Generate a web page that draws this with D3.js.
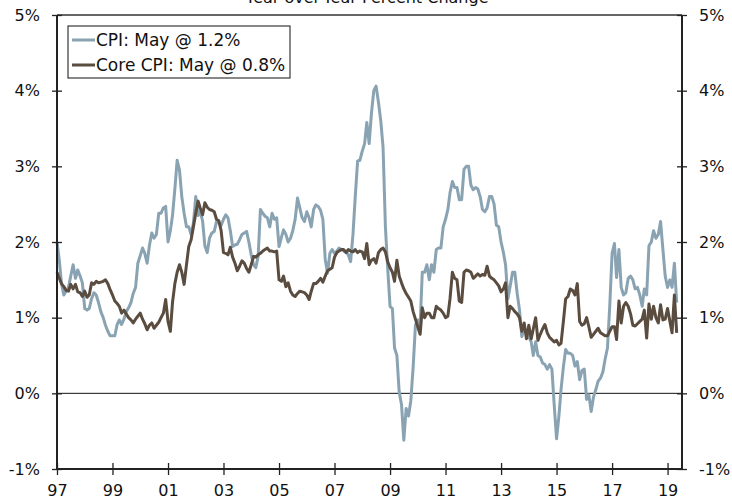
<!DOCTYPE html>
<html>
<head>
<meta charset="utf-8">
<script src="https://cdn.jsdelivr.net/npm/d3@7"></script>
<style>
  body { margin: 0; background: #fff; }
  svg { display: block; font-family: 'DejaVu Sans', Verdana, sans-serif; }
</style>
</head>
<body>
<div id="chart"></div>
<script>
// monthly year-over-year % change, Jan 1997 .. May 2019
const cpi = [
  2.0, 1.75, 1.45, 1.3, 1.35, 1.4, 1.55, 1.7, 1.52, 1.63, 1.55, 1.46,
  1.12, 1.1, 1.12, 1.25, 1.33, 1.3, 1.2, 1.08, 1.0, 0.9, 0.82, 0.76,
  0.76, 0.76, 0.9, 0.97, 0.91, 0.98, 1.08, 1.13, 1.2, 1.32, 1.4, 1.72,
  1.82, 1.92, 1.85, 1.72, 1.95, 2.12, 2.05, 2.1, 2.38, 2.38, 2.45, 2.47,
  2.0, 2.15, 2.35, 2.7, 3.08, 2.95, 2.6, 2.38, 2.2, 2.2, 2.1, 2.25,
  2.6, 2.35, 2.4, 2.28, 1.95, 1.86, 2.05, 2.12, 2.14, 2.27, 2.25, 2.22,
  2.3, 2.36, 2.32, 2.15, 1.94, 1.96, 1.97, 2.03, 2.1, 2.12, 2.14, 2.0,
  1.83, 1.7, 1.66, 1.81, 2.43, 2.38, 2.34, 2.32, 2.2, 2.38, 2.3, 2.32,
  1.94, 2.06, 2.16, 2.1, 2.0, 2.05, 2.15, 2.3, 2.58, 2.45, 2.32, 2.27,
  2.4, 2.32, 2.2, 2.43, 2.49, 2.47, 2.42, 2.3, 1.77, 1.59, 1.85, 1.9,
  1.85, 1.88, 1.92, 1.9, 1.88, 1.88, 1.83, 1.74, 2.1, 2.6, 3.07, 3.08,
  3.2, 3.3, 3.58, 3.3, 3.7, 4.0, 4.06, 3.85, 3.6, 3.25, 2.2, 1.65,
  1.15, 1.12, 0.6, 0.5, 0.02, -0.15, -0.62, -0.2, -0.3, -0.1, 0.35, 0.9,
  0.97, 0.9, 1.6, 1.6, 1.7, 1.5, 1.7, 1.6, 1.9, 1.92, 1.92, 2.2,
  2.3, 2.43, 2.65, 2.8, 2.72, 2.72, 2.56, 2.56, 2.96, 3.0, 3.0, 2.75,
  2.69, 2.72, 2.7, 2.6, 2.43, 2.4, 2.45, 2.6, 2.6, 2.5, 2.22, 2.2,
  2.0, 1.86, 1.7, 1.25, 1.42, 1.6, 1.6, 1.32, 1.1, 0.75, 0.85, 0.8,
  0.75, 0.68, 0.5, 0.68, 0.5, 0.48, 0.4, 0.38, 0.32, 0.38, 0.32, -0.15,
  -0.6, -0.3, 0.05, 0.35, 0.58, 0.53, 0.53, 0.5, 0.36, 0.42, 0.18, 0.3,
  0.32, -0.08, -0.02, -0.24, -0.05, 0.05, 0.16, 0.2, 0.28, 0.45, 0.6, 1.15,
  1.85, 1.98, 1.53, 1.9, 1.4, 1.3, 1.33, 1.52, 1.55, 1.5, 1.38, 1.4,
  1.3, 1.15, 1.38, 1.3, 1.95, 2.0, 2.15, 2.05, 2.1, 2.27, 1.9, 1.55,
  1.4, 1.5, 1.4, 1.72, 1.2
]

const core = [
  1.6, 1.52, 1.45, 1.41, 1.36, 1.35, 1.44, 1.38, 1.44, 1.34, 1.33, 1.28,
  1.35, 1.27, 1.3, 1.46, 1.44, 1.48, 1.46, 1.47, 1.48, 1.5, 1.45, 1.37,
  1.3, 1.22, 1.19, 1.15, 1.06, 1.1, 1.05, 1.0, 0.97, 0.93, 0.98, 1.02,
  1.06, 0.98, 0.92, 0.84, 0.9, 0.93, 0.86, 0.9, 0.94, 1.0, 1.06, 1.24,
  0.95, 0.82, 1.2, 1.45, 1.6, 1.7, 1.6, 1.44, 1.7, 1.94, 2.03, 2.2,
  2.38, 2.54, 2.45, 2.36, 2.52, 2.46, 2.43, 2.42, 2.4, 2.3, 2.28, 2.15,
  1.86, 1.85, 1.83, 1.93, 1.8, 1.72, 1.62, 1.68, 1.75, 1.72, 1.65, 1.6,
  1.7, 1.81, 1.8, 1.83, 1.85, 1.88, 1.9, 1.92, 1.88, 1.88, 1.87, 1.88,
  1.5, 1.48, 1.55, 1.41, 1.46, 1.35, 1.3, 1.28, 1.32, 1.35, 1.34, 1.33,
  1.3, 1.24, 1.35, 1.45, 1.45, 1.48, 1.52, 1.47, 1.55, 1.62, 1.64, 1.66,
  1.8, 1.86, 1.88, 1.9, 1.9, 1.86, 1.9, 1.88, 1.87, 1.9, 1.86, 1.88,
  1.87, 1.78, 1.98, 1.7, 1.76, 1.78, 1.72, 1.86, 1.9, 1.92, 1.87, 1.74,
  1.66, 1.6, 1.48, 1.76, 1.55, 1.46, 1.38, 1.32, 1.27, 1.22, 1.08, 0.98,
  0.88, 0.78, 1.13, 1.0, 1.06, 1.06, 1.0, 1.0, 1.15, 1.12, 1.1, 1.06,
  1.0, 1.02, 1.25, 1.6, 1.52, 1.5, 1.22, 1.2, 1.6, 1.63, 1.62, 1.6,
  1.52, 1.55, 1.58, 1.55, 1.57, 1.56, 1.68, 1.55, 1.52, 1.5, 1.46, 1.42,
  1.34, 1.38, 1.46, 1.0, 1.15, 1.12, 1.08, 1.05, 1.0, 0.82, 0.93, 0.72,
  0.9, 0.72, 0.85, 1.0, 0.7, 0.78, 0.85, 0.91, 0.8, 0.74, 0.71, 0.68,
  0.7, 0.64, 0.66, 0.95, 1.25, 1.28, 1.38, 1.36, 1.3, 1.45, 0.95, 0.9,
  0.92, 1.0, 0.88, 0.74, 0.78, 0.82, 0.86, 0.8, 0.78, 0.76, 0.76, 0.82,
  0.88, 0.88, 0.71, 1.22, 0.93, 1.15, 1.2, 1.15, 1.05, 0.9, 0.89, 0.92,
  0.95, 0.98, 1.1, 0.73, 1.18, 0.98, 1.15, 1.0, 0.93, 1.17, 0.97, 0.98,
  1.12, 0.95, 0.8, 1.3, 0.8
]

const tickYears = [1997, 1999, 2001, 2003, 2005, 2007, 2009, 2011, 2013, 2015, 2017, 2019]
const yTicks = [-1, 0, 1, 2, 3, 4, 5]
const seriesNames = ['CPI: May @ 1.2%', 'Core CPI: May @ 0.8%']
const colors = ['#89a3b3', '#5b4c40']
const title = 'Year-over-Year Percent Change'

const W = 732
const H = 502
const margin = { top: 15, left: 57, right: 50, bottom: 33 }
const width = W - margin.left - margin.right
const height = H - margin.top - margin.bottom

const svg = d3
  .select('#chart')
  .append('svg')
  .attr('width', W)
  .attr('height', H)

const g = svg
  .append('g')
  .attr('transform', 'translate(' + margin.left + ',' + margin.top + ')')

const start = new Date(1997, 0, 1)
const months = cpi.map((d, i) => d3.timeMonth.offset(start, i))

const x = d3
  .scaleTime()
  .domain([start, new Date(2019, 6, 10)])
  .range([0, width])

const y = d3
  .scaleLinear()
  .domain([-1, 5])
  .range([height, 0])

// title sits half off the top edge, as in the original
svg
  .append('text')
  .attr('x', 367)
  .attr('y', 3)
  .attr('text-anchor', 'middle')
  .attr('font-size', 16)
  .attr('fill', '#111')
  .text(title)

// top frame line
g.append('line')
  .attr('x1', 0)
  .attr('x2', width)
  .attr('y1', 0)
  .attr('y2', 0)
  .attr('stroke', '#666')
  .attr('stroke-width', 2)

// zero line
g.append('line')
  .attr('x1', 0)
  .attr('x2', width)
  .attr('y1', y(0))
  .attr('y2', y(0))
  .attr('stroke', '#111')
  .attr('stroke-width', 1)

const line = d3
  .line()
  .x((d, i) => x(months[i]))
  .y(d => y(d))

g.append('path')
  .datum(cpi)
  .attr('fill', 'none')
  .attr('stroke', colors[0])
  .attr('stroke-width', 3)
  .attr('stroke-linejoin', 'round')
  .attr('d', line)

g.append('path')
  .datum(core)
  .attr('fill', 'none')
  .attr('stroke', colors[1])
  .attr('stroke-width', 3)
  .attr('stroke-linejoin', 'round')
  .attr('d', line)

const fmtPct = d => d + '%'

const yLeft = d3.axisLeft(y).tickValues(yTicks).tickFormat(fmtPct).tickSize(5).tickPadding(12)
const yRight = d3.axisRight(y).tickValues(yTicks).tickFormat(fmtPct).tickSize(5).tickPadding(12)
const xAxis = d3
  .axisBottom(x)
  .tickValues(tickYears.map(yr => new Date(yr, 0, 1)))
  .tickFormat(d3.timeFormat('%y'))
  .tickSize(6)
  .tickPadding(10)

g.append('g').attr('class', 'axis y-left').call(yLeft)
g.append('g')
  .attr('class', 'axis y-right')
  .attr('transform', 'translate(' + width + ',0)')
  .call(yRight)
g.append('g')
  .attr('class', 'axis x-axis')
  .attr('transform', 'translate(0,' + height + ')')
  .call(xAxis)

g.selectAll('.axis text')
  .attr('font-family', "'DejaVu Sans', Verdana, sans-serif")
  .attr('font-size', 16)
  .attr('fill', '#111')
g.selectAll('.axis path').attr('stroke', '#222').attr('stroke-width', 2)
g.selectAll('.axis line').attr('stroke', '#222').attr('stroke-width', 1.3)

// ticks cross the axis lines, no outer ticks on the domain
g.selectAll('.y-left .tick line').attr('x1', 5)
g.selectAll('.y-right .tick line').attr('x1', -5)
g.selectAll('.x-axis .tick line').attr('y1', -6)
g.selectAll('.y-left .domain, .y-right .domain').attr('d', 'M0,' + height + 'V0')
g.selectAll('.x-axis .domain').attr('d', 'M0,0H' + width)

// legend
const legend = svg.append('g').attr('transform', 'translate(68,26)')
legend
  .append('rect')
  .attr('width', 222)
  .attr('height', 52)
  .attr('fill', '#fff')
  .attr('stroke', '#111')
  .attr('stroke-width', 1)

seriesNames.forEach((name, i) => {
  const ly = 14 + i * 25
  legend
    .append('line')
    .attr('x1', 4)
    .attr('x2', 27)
    .attr('y1', ly)
    .attr('y2', ly)
    .attr('stroke', colors[i])
    .attr('stroke-width', 3)
  legend
    .append('text')
    .attr('x', 28)
    .attr('y', ly + 6)
    .attr('font-size', 17)
    .attr('fill', '#111')
    .text(name)
})
</script>
</body>
</html>
